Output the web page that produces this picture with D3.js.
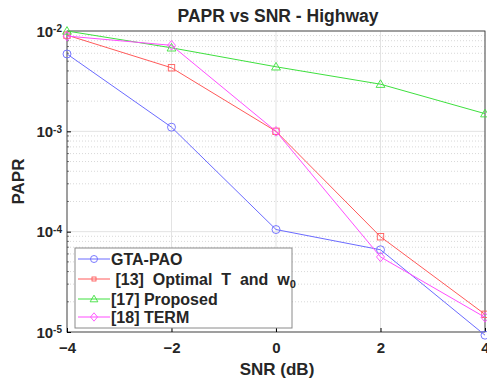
<!DOCTYPE html>
<html>
<head>
<meta charset="utf-8">
<script src="https://cdn.jsdelivr.net/npm/d3@7"></script>
<style>
  body { margin: 0; background: #fff; }
  text { font-family: "Liberation Sans", Arial, sans-serif; font-weight: bold; fill: #262626; white-space: pre; }
</style>
</head>
<body>
<div id="chart"></div>
<script>
// data
const snr = [-4, -2, 0, 2, 4]
const gtaPao = [5.9e-3, 1.1e-3, 1.05e-4, 6.6e-5, 9.3e-6]
const optimal13 = [9.1e-3, 4.3e-3, 1.0e-3, 8.9e-5, 1.5e-5]
const proposed17 = [1.0e-2, 6.8e-3, 4.4e-3, 2.95e-3, 1.5e-3]
const term18 = [8.9e-3, 7.2e-3, 1.0e-3, 5.6e-5, 1.4e-5]
const xTicks = [-4, -2, 0, 2, 4]
const yTicks = [1e-5, 1e-4, 1e-3, 1e-2]

const series = [
  { name: "GTA-PAO", values: gtaPao, color: "#6b6bff", marker: "circle" },
  { name: " [13]  Optimal  T  and  w", sub: "0", values: optimal13, color: "#ff5a5a", marker: "square" },
  { name: "[17] Proposed", values: proposed17, color: "#3ee03e", marker: "triangle" },
  { name: "[18] TERM", values: term18, color: "#ff4dff", marker: "diamond" }
]

const W = 487, H = 378
const margin = {top: 31, right: 2, bottom: 46, left: 67}
const width = W - margin.left - margin.right,
      height = H - margin.top - margin.bottom

const svg = d3.select("#chart").append("svg")
    .attr("width", W).attr("height", H)

const g = svg.append("g")
    .attr("transform", `translate(${margin.left},${margin.top})`)

const x = d3.scaleLinear().domain([-4, 4]).range([0, width])
const y = d3.scaleLog().domain([1e-5, 1e-2]).range([height, 0])

// minor grid (dotted)
const minor = []
for (let e = -5; e < -2; e++) for (let k = 2; k < 10; k++) minor.push(k * Math.pow(10, e))
g.append("g").selectAll("line").data(minor).join("line")
    .attr("x1", 0).attr("x2", width)
    .attr("y1", d => y(d)).attr("y2", d => y(d))
    .attr("stroke", "#d8d8d8").attr("stroke-dasharray", "1,2")

// major grid
g.append("g").selectAll("line").data(yTicks).join("line")
    .attr("x1", 0).attr("x2", width)
    .attr("y1", d => y(d)).attr("y2", d => y(d))
    .attr("stroke", "#e3e3e3")
g.append("g").selectAll("line").data(xTicks).join("line")
    .attr("x1", d => x(d)).attr("x2", d => x(d))
    .attr("y1", 0).attr("y2", height)
    .attr("stroke", "#e3e3e3")

// box
g.append("rect").attr("width", width).attr("height", height)
    .attr("fill", "none").attr("stroke", "#262626").attr("stroke-width", 0.8)

// axes
const xAxis = g.append("g").attr("transform", `translate(0,${height})`)
    .call(d3.axisBottom(x).tickValues(xTicks).tickSize(-4).tickPadding(10).tickFormat(d3.format("d")))
xAxis.select(".domain").remove()
xAxis.selectAll("text").style("font-size", "15px")

const yAxis = g.append("g")
    .call(d3.axisLeft(y).tickValues(yTicks).tickSize(-4).tickPadding(6).tickFormat(""))
yAxis.select(".domain").remove()
yAxis.selectAll(".tick").each(function(d) {
  const t = d3.select(this).append("text")
      .attr("x", -5).attr("dy", "0.35em").attr("text-anchor", "end")
      .style("font-size", "15px")
  t.append("tspan").text("10")
  t.append("tspan").attr("dy", "-0.45em").style("font-size", "10px").text(Math.round(Math.log10(d)))
})
g.append("g").selectAll("line").data(minor).join("line")
    .attr("x1", 0).attr("x2", 2).attr("y1", d => y(d)).attr("y2", d => y(d))
    .attr("stroke", "#262626").attr("stroke-width", 0.6)

// lines and markers
function drawMarker(sel, type, color, s) {
  if (type === "circle") sel.append("circle").attr("r", s)
  else if (type === "square") sel.append("rect").attr("x", -s * 0.8).attr("y", -s * 0.8).attr("width", s * 1.6).attr("height", s * 1.6)
  else if (type === "triangle") sel.append("path").attr("d", `M0,${-s * 1.1}L${s * 1.1},${s * 0.8}L${-s * 1.1},${s * 0.8}Z`)
  else sel.append("path").attr("d", `M0,${-s * 1.2}L${s},0L0,${s * 1.2}L${-s},0Z`)
  sel.selectAll("*").attr("fill", "none").attr("stroke", color).attr("stroke-width", 0.9)
}

const line = d3.line().x((d, i) => x(snr[i])).y(d => y(d))
series.forEach(s => {
  g.append("path").datum(s.values).attr("d", line)
      .attr("fill", "none").attr("stroke", s.color).attr("stroke-width", 1)
  s.values.forEach((v, i) => {
    const m = g.append("g").attr("transform", `translate(${x(snr[i])},${y(v)})`)
    drawMarker(m, s.marker, s.color, 4)
  })
})

// legend
const leg = svg.append("g").attr("transform", "translate(75,248)")
leg.append("rect").attr("width", 217).attr("height", 80)
    .attr("fill", "#fff").attr("stroke", "#8a8a8a").attr("stroke-width", 1)
const rows = [11, 31, 51, 69]
series.forEach((s, i) => {
  const r = leg.append("g").attr("transform", `translate(0,${rows[i]})`)
  r.append("line").attr("x1", 3).attr("x2", 35).attr("stroke", s.color).attr("stroke-width", 1)
  const m = r.append("g").attr("transform", "translate(19,0)")
  drawMarker(m, s.marker, s.color, s.marker === "square" ? 2.5 : 3.5)
  const t = r.append("text").attr("x", 36).attr("dy", "0.35em").style("font-size", "16px")
  t.append("tspan").text(s.name)
  if (s.sub) t.append("tspan").attr("dy", "0.3em").style("font-size", "11px").text(s.sub)
})

// title and labels
svg.append("text").attr("x", margin.left + width / 2 + 2).attr("y", 22)
    .attr("text-anchor", "middle").style("font-size", "17.5px").text("PAPR vs SNR - Highway")
svg.append("text").attr("x", margin.left + width / 2 + 1).attr("y", 375)
    .attr("text-anchor", "middle").style("font-size", "17px").text("SNR (dB)")
svg.append("text").attr("transform", `translate(24,${margin.top + height / 2}) rotate(-90)`)
    .attr("text-anchor", "middle").style("font-size", "17px").text("PAPR")
</script>
</body>
</html>
